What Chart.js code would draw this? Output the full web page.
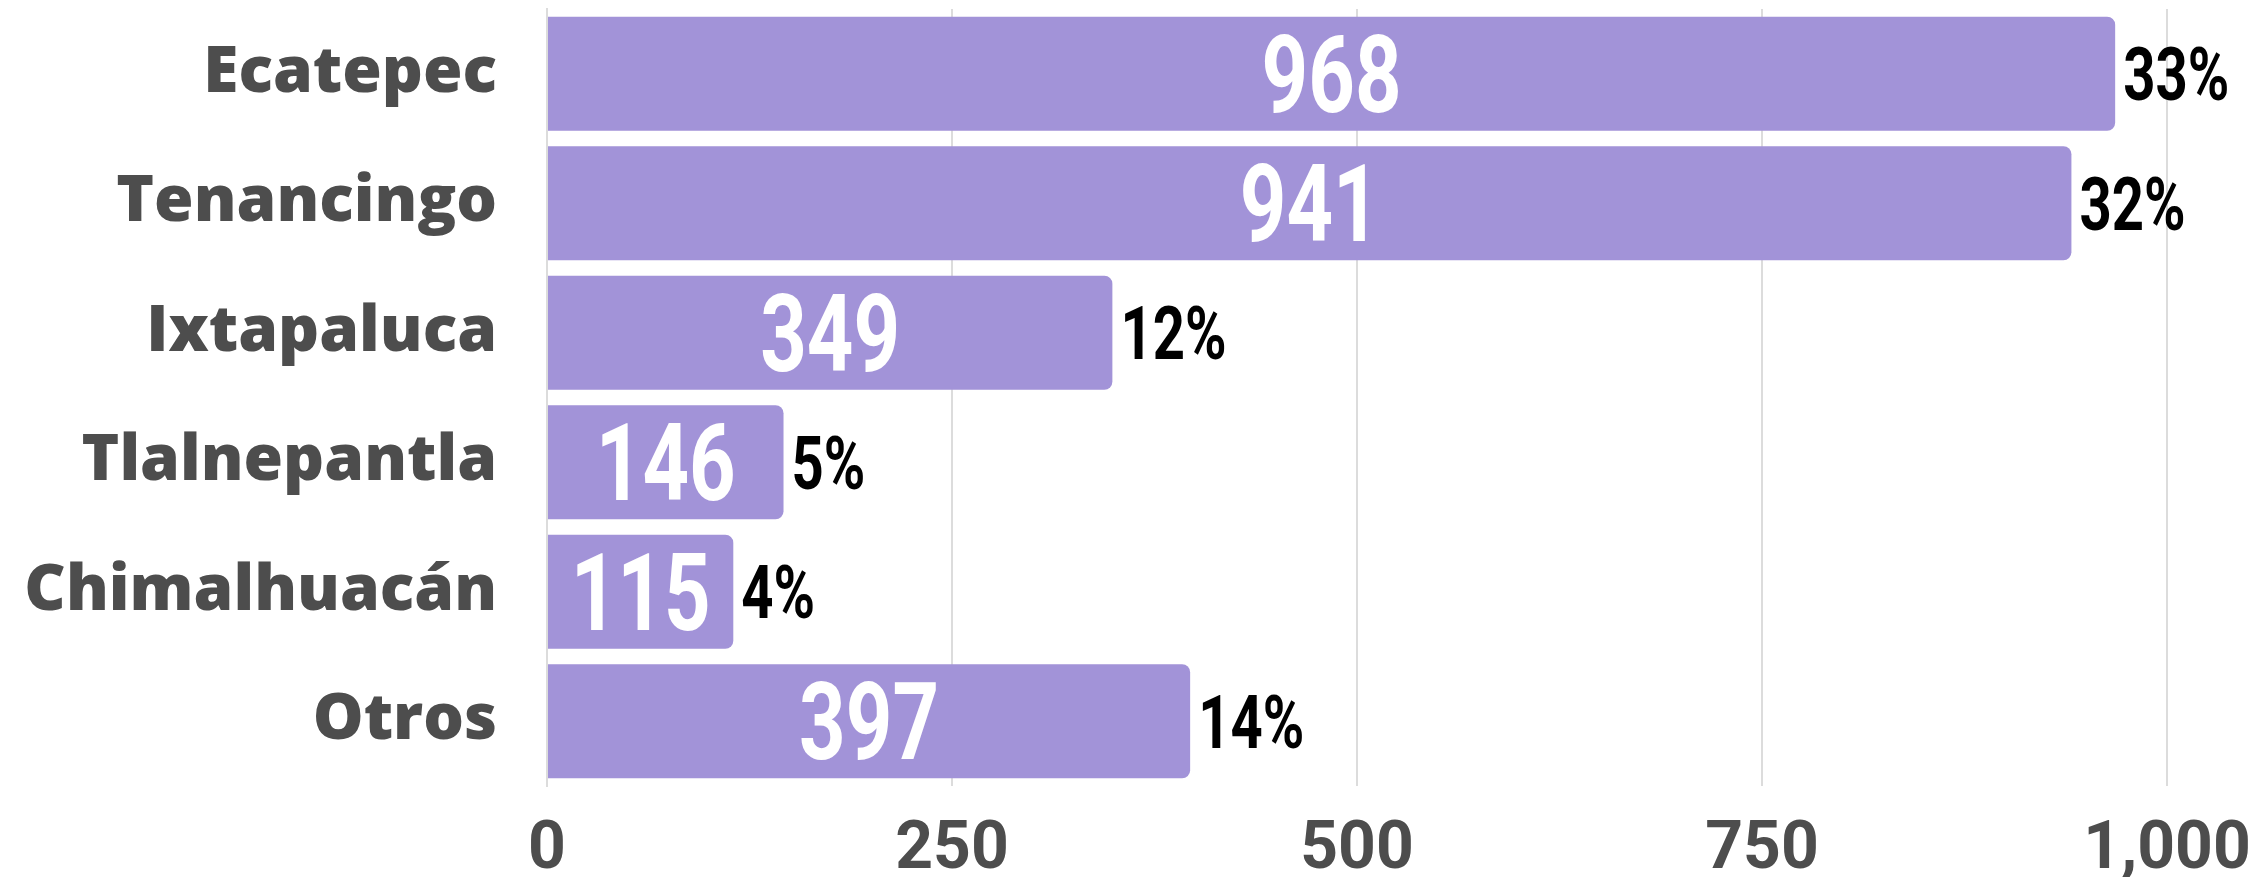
<!DOCTYPE html>
<html>
<head>
<meta charset="utf-8">
<script src="https://cdn.jsdelivr.net/npm/chart.js@4.4.1/dist/chart.umd.min.js"></script>
<style>
  html, body { margin: 0; padding: 0; background: #fff; }
  #wrap { width: 2259px; height: 877px; }
</style>
</head>
<body>
<div id="wrap"><canvas id="myChart"></canvas></div>
<script>
var municipios = ['Ecatepec', 'Tenancingo', 'Ixtapaluca', 'Tlalnepantla', 'Chimalhuacán', 'Otros'];
var casos = [968, 941, 349, 146, 115, 397];
var porcentajes = [33, 32, 12, 5, 4, 14];
var ticksX = [0, 250, 500, 750, 1000];

var barColor = '#a293d8';
var gray = '#4d4d4d';

// narrow bold numbers, squeezed sideways to look condensed
function narrowText(ctx, text, x, y, align, color, size) {
  ctx.save();
  ctx.translate(x, y + size * 0.711 / 2);
  ctx.scale(0.76, 1);
  ctx.font = 'bold ' + size + 'px Roboto';
  ctx.fillStyle = color;
  ctx.textAlign = align;
  ctx.textBaseline = 'alphabetic';
  ctx.fillText(text, 0, 0);
  ctx.restore();
}

var barLabels = {
  id: 'barLabels',
  afterDatasetsDraw: function (chart) {
    var ctx = chart.ctx;
    var meta = chart.getDatasetMeta(0);
    meta.data.forEach(function (bar, i) {
      narrowText(ctx, String(casos[i]), (bar.base + bar.x) / 2, bar.y, 'center', '#fff', 107);
      narrowText(ctx, porcentajes[i] + '%', bar.x + 8, bar.y, 'left', '#000', 74);
    });
  }
};

var ctx = document.getElementById('myChart').getContext('2d');

var myChart = new Chart(ctx, {
  type: 'bar',
  data: {
    labels: municipios,
    datasets: [
      {
        label: 'Casos',
        data: casos,
        backgroundColor: barColor,
        borderRadius: 8,
        borderSkipped: 'start',
        barPercentage: 0.88,
        categoryPercentage: 1,
      },
    ],
  },
  options: {
    indexAxis: 'y',
    responsive: true,
    maintainAspectRatio: false,
    animation: false,
    layout: {
      padding: { top: 9, right: 92, bottom: 0, left: 0 },
    },
    plugins: {
      legend: { display: false },
      tooltip: { enabled: false },
    },
    scales: {
      x: {
        min: 0,
        max: 1000,
        afterBuildTicks: function (scale) {
          scale.ticks = ticksX.map(function (v) { return { value: v }; });
        },
        afterFit: function (scale) {
          scale.height = 91;
          scale.paddingLeft = 0;
          scale.paddingRight = 0;
        },
        grid: { color: '#dcdcdc', lineWidth: 2, drawTicks: false },
        border: { display: false },
        ticks: {
          color: gray,
          padding: 32,
          font: { family: 'Roboto', weight: 'bold', size: 66, lineHeight: 1 },
          callback: function (v) { return v.toLocaleString('en-US'); },
        },
      },
      y: {
        grid: { display: false, drawTicks: false },
        border: { display: true, color: '#dcdcdc', width: 2 },
        afterFit: function (scale) {
          scale.width = 547;
          scale.paddingTop = 0;
          scale.paddingBottom = 0;
        },
        ticks: {
          color: gray,
          padding: 50,
          font: { family: 'Open Sans', weight: 800, size: 64 },
        },
      },
    },
  },
  plugins: [barLabels],
});
</script>
</body>
</html>
